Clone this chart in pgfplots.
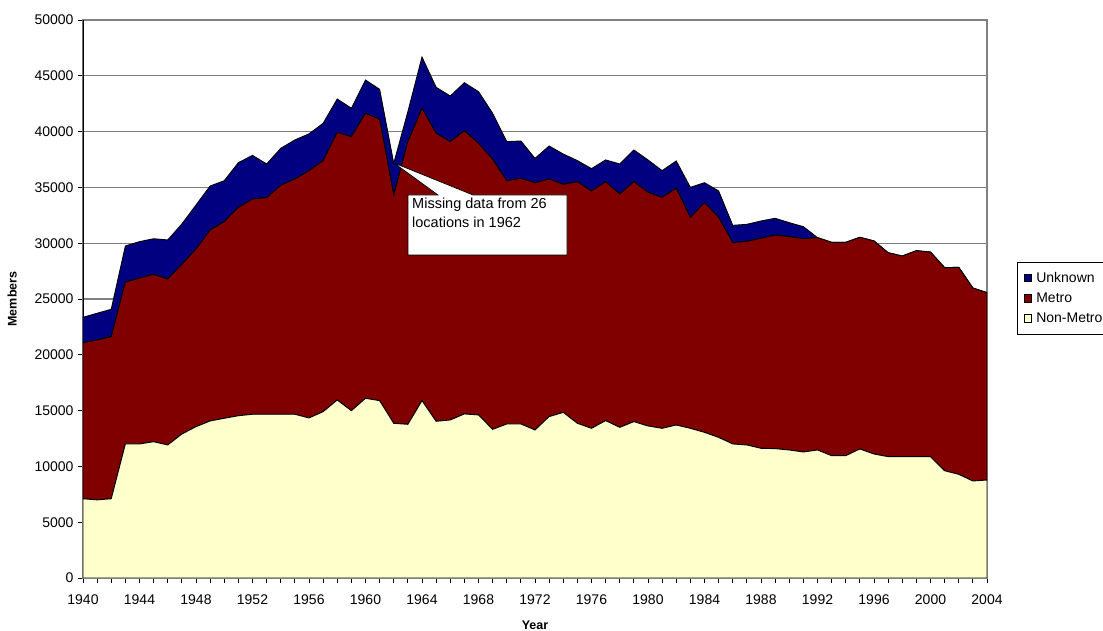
\documentclass[border=0pt]{standalone}
\usepackage{pgfplots}
\pgfplotsset{compat=1.18}
\usepackage{pgfplotstable}
\usepackage{fontspec}
\setmainfont{Liberation Sans}
\definecolor{unk}{HTML}{000080}
\definecolor{metro}{HTML}{800000}
\definecolor{nonmetro}{HTML}{FFFFCC}
\definecolor{gridgray}{HTML}{808080}

\pgfplotstableread{
year nonmetro metro unknown
1940 7100 13980 2280
1941 7000 14330 2390
1942 7100 14520 2460
1943 12010 14510 3230
1944 12010 14870 3260
1945 12210 15000 3190
1946 11920 14870 3500
1947 12900 15210 3610
1948 13560 15920 3940
1949 14070 17110 3945
1950 14310 17620 3670
1951 14540 18670 4005
1952 14670 19290 3910
1953 14670 19410 3020
1954 14670 20520 3310
1955 14670 21080 3500
1956 14340 22160 3300
1957 14900 22500 3340
1958 15950 23980 2990
1959 14990 24560 2540
1960 16100 25540 2980
1961 15890 25210 2690
1962 13860 20460 2840
1963 13770 25330 2680
1964 15890 26200 4590
1965 14040 25810 4120
1966 14160 24940 4090
1967 14700 25380 4300
1968 14610 24340 4630
1969 13320 24200 4120
1970 13800 21800 3500
1971 13800 22010 3350
1972 13260 22160 2180
1973 14460 21290 2960
1974 14840 20440 2710
1975 13860 21650 1890
1976 13410 21270 2000
1977 14100 21410 1950
1978 13500 20910 2690
1979 14010 21500 2840
1980 13620 20940 2900
1981 13410 20700 2390
1982 13710 21210 2450
1983 13410 18910 2680
1984 13050 20580 1790
1985 12600 19720 2360
1986 12010 18040 1550
1987 11920 18250 1520
1988 11620 18820 1550
1989 11590 19140 1500
1990 11470 19120 1250
1991 11290 19110 1080
1992 11470 19030 0
1993 10960 19120 0
1994 10960 19120 0
1995 11560 18970 0
1996 11110 19090 0
1997 10870 18280 0
1998 10870 17980 0
1999 10870 18460 0
2000 10870 18340 0
2001 9610 18200 0
2002 9290 18550 0
2003 8690 17300 0
2004 8780 16790 0
}\datatable

\begin{document}
\begin{tikzpicture}
\begin{axis}[
  name=ax,
  scale only axis,
  width=904bp, height=558bp,
  xmin=1940, xmax=2004, ymin=0, ymax=50000,
  stack plots=y,
  xtick={1940,1944,...,2004},
  minor xtick={1940,...,2004},
  ytick={0,5000,...,50000},
  scaled y ticks=false,
  /pgf/number format/.cd, set thousands separator={}, assume math mode=true,
  /pgfplots/.cd,
  tick align=outside,
  xtick pos=bottom, ytick pos=left,
  major tick length=5bp, minor tick length=5bp,
  tick style={black, line width=0.8bp},
  ymajorgrids,
  grid style={gridgray, line width=1.3bp},
  axis line style={gridgray, line width=1.2bp},
  ticklabel style={font=\fontsize{14bp}{16bp}\selectfont},
  xticklabel style={yshift=-8bp},
  yticklabel style={xshift=-1bp},
  xlabel={\textbf{Year}},
  ylabel={\textbf{Members}},
  label style={font=\fontsize{12.5bp}{15bp}\selectfont},
  xlabel style={yshift=-10bp},
  ylabel style={yshift=11bp},
  reverse legend,
  legend style={at={(1.0332,0.5663)}, anchor=north west, draw=black,
    line width=0.6bp, font=\fontsize{14bp}{16bp}\selectfont,
    row sep=5bp, inner xsep=6bp, inner ysep=8bp},
  legend cell align=left,
  legend image code/.code={\path[draw=none,fill=none] (-1bp,0bp) -- (10bp,0bp);\draw[#1,draw=black,line width=0.6bp] (0bp,-3.6bp) rectangle (7.4bp,3.8bp);},
]
\addplot[fill=nonmetro, draw=black, line width=0.9bp] table[x=year,y=nonmetro]{\datatable} \closedcycle;
\addlegendentry{Non-Metro}
\addplot[fill=metro, draw=black, line width=0.9bp] table[x=year,y=metro]{\datatable} \closedcycle;
\addlegendentry{Metro}
\addplot[fill=unk, draw=black, line width=0.9bp] table[x=year,y=unknown]{\datatable} \closedcycle;
\addlegendentry{Unknown}
\draw[black, line width=1.2bp] (rel axis cs:0,1) -- (rel axis cs:0,0) -- (rel axis cs:1,0);
\end{axis}
\begin{scope}[shift={(ax.south west)}]
\draw[fill=white, draw=black, line width=0.7bp]
  (325bp,383bp) -- (355bp,383bp) -- (311bp,415bp) -- (390bp,383bp) -- (484bp,383bp)
  -- (484bp,323bp) -- (325bp,323bp) -- cycle;
\node[anchor=base west, inner sep=0pt, font=\fontsize{14.5bp}{17bp}\selectfont] at (329bp,369bp) {Missing data from 26};
\node[anchor=base west, inner sep=0pt, font=\fontsize{14.5bp}{17bp}\selectfont] at (329bp,350bp) {locations in 1962};
\end{scope}
\pgfresetboundingbox
\path[use as bounding box] ([shift={(-83bp,-53bp)}]ax.south west) rectangle ([shift={(1020bp,578bp)}]ax.south west);
\end{tikzpicture}
\end{document}
